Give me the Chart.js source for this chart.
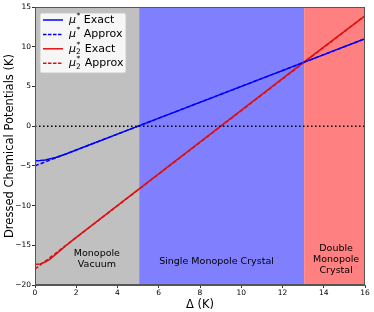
<!DOCTYPE html>
<html>
<head>
<meta charset="utf-8">
<script src="https://cdn.jsdelivr.net/npm/chart.js@4"></script>
<style>
    html, body { margin: 0; padding: 0; background: #ffffff; }
    #wrap { width: 374px; height: 312px; position: relative; }
</style>
</head>
<body>
<div id="wrap"><canvas id="potentialChart"></canvas></div>
<script>
// ========================================
// Data
// ========================================
const blueExactX = [0, 0.25, 0.5, 0.75, 1, 1.5, 2, 5, 13, 16];
const blueExactY = [-4.35, -4.33, -4.25, -4.1, -3.95, -3.5, -3.0, 0, 8, 11];
const blueApproxX = [0, 16];
const blueApproxY = [-5, 11];
const redExactX = [0, 0.25, 0.5, 0.75, 1, 1.5, 2, 5, 13, 16];
const redExactY = [-17.4, -17.35, -17.1, -16.7, -16.15, -15.05, -14, -8, 8, 13.9];
const redApproxX = [0, 16];
const redApproxY = [-18, 13.9];

// phase regions (x ranges)
const regionStarts = [0, 5.05, 13.05];
const regionEnds = [5.05, 13.05, 16];
const regionColors = ['#c0c0c0', '#8080ff', '#ff8080'];

// region labels
const regionLabels = [['Monopole', 'Vacuum'], ['Single Monopole Crystal'], ['Double', 'Monopole', 'Crystal']];
const regionLabelX = [3.0, 8.8, 14.6];
const regionLabelY = [-16.7, -17.0, -16.8];

const xTicks = [0, 2, 4, 6, 8, 10, 12, 14, 16];
const yTicks = [-20, -15, -10, -5, 0, 5, 10, 15];

const FONT = 'DejaVu Sans';
const BLUE = '#0000ff';
const RED = '#dd1010';

function toPoints(xs, ys) {
    return xs.map((x, i) => ({ x: x, y: ys[i] }));
}

// Shaded phase regions behind the curves
const regionPlugin = {
    id: 'regions',
    beforeDatasetsDraw(chart) {
        const ctx = chart.ctx;
        const xs = chart.scales.x;
        const area = chart.chartArea;
        ctx.save();
        regionStarts.forEach((start, i) => {
            const x0 = xs.getPixelForValue(start);
            const x1 = xs.getPixelForValue(regionEnds[i]);
            ctx.fillStyle = regionColors[i];
            ctx.fillRect(x0, area.top, x1 - x0, area.bottom - area.top);
        });
        ctx.restore();
    }
};

// mathtext-like legend label: mu, optional subscript 2, superscript *
function drawMathLabel(ctx, x, y, sub, rest) {
    ctx.font = 'italic 11px "' + FONT + '"';
    ctx.fillText('\u03bc', x, y);
    let cx = x + ctx.measureText('\u03bc').width;
    ctx.font = '7.5px "' + FONT + '"';
    if (sub) {
        ctx.fillText('2', cx, y + 3.5);
    }
    ctx.fillText('*', cx + 0.5, y - 4);
    cx += sub ? ctx.measureText('2').width + 0.5 : ctx.measureText('*').width + 0.5;
    ctx.font = '11px "' + FONT + '"';
    ctx.fillText(rest, cx + 3.5, y);
}

const overlayPlugin = {
    id: 'overlay',
    afterDatasetsDraw(chart) {
        const ctx = chart.ctx;
        const xs = chart.scales.x;
        const ys = chart.scales.y;
        const area = chart.chartArea;
        ctx.save();

        // region labels
        ctx.fillStyle = '#000000';
        ctx.font = '9.5px "' + FONT + '"';
        ctx.textAlign = 'center';
        ctx.textBaseline = 'middle';
        regionLabels.forEach((lines, i) => {
            const cx = xs.getPixelForValue(regionLabelX[i]);
            const cy = ys.getPixelForValue(regionLabelY[i]);
            const lh = 11;
            lines.forEach((t, j) => {
                ctx.fillText(t, cx, cy + (j - (lines.length - 1) / 2) * lh);
            });
        });

        // frame
        ctx.strokeStyle = '#555555';
        ctx.lineWidth = 1;
        ctx.strokeRect(area.left + 0.5, area.top + 0.5, area.right - area.left - 1, area.bottom - area.top - 1);

        // legend box
        const lx = area.left + 5;
        const ly = area.top + 6;
        ctx.fillStyle = 'rgba(255,255,255,0.85)';
        ctx.strokeStyle = 'rgba(200,200,200,0.9)';
        ctx.beginPath();
        ctx.roundRect(lx, ly, 86, 60, 2);
        ctx.fill();
        ctx.stroke();

        const entries = [
            { color: BLUE, dash: [], sub: false, text: 'Exact' },
            { color: BLUE, dash: [3.5, 1.5], sub: false, text: 'Approx' },
            { color: RED, dash: [], sub: true, text: 'Exact' },
            { color: RED, dash: [3.5, 1.5], sub: true, text: 'Approx' }
        ];
        ctx.textAlign = 'left';
        ctx.textBaseline = 'middle';
        entries.forEach((e, i) => {
            const ry = ly + 7 + i * 14.4;
            ctx.strokeStyle = e.color;
            ctx.lineWidth = 1.5;
            ctx.setLineDash(e.dash);
            ctx.beginPath();
            ctx.moveTo(lx + 3, ry);
            ctx.lineTo(lx + 23, ry);
            ctx.stroke();
            ctx.setLineDash([]);
            ctx.fillStyle = '#000000';
            drawMathLabel(ctx, lx + 29, ry, e.sub, e.text);
        });

        ctx.restore();
    }
};

function initChart() {
    const ctx = document.getElementById('potentialChart');
    new Chart(ctx, {
        type: 'scatter',
        data: {
            datasets: [
                {
                    label: 'zero',
                    data: toPoints([0, 16], [0, 0]),
                    showLine: true,
                    borderColor: '#000000',
                    borderWidth: 1.5,
                    borderDash: [1.5, 2.5],
                    pointRadius: 0
                },
                {
                    label: 'mu Approx',
                    data: toPoints(blueApproxX, blueApproxY),
                    showLine: true,
                    borderColor: BLUE,
                    borderWidth: 1.5,
                    borderDash: [4, 2],
                    pointRadius: 0
                },
                {
                    label: 'mu2 Approx',
                    data: toPoints(redApproxX, redApproxY),
                    showLine: true,
                    borderColor: RED,
                    borderWidth: 1.5,
                    borderDash: [4, 2],
                    pointRadius: 0
                },
                {
                    label: 'mu Exact',
                    data: toPoints(blueExactX, blueExactY),
                    showLine: true,
                    borderColor: BLUE,
                    borderWidth: 1.5,
                    tension: 0,
                    pointRadius: 0
                },
                {
                    label: 'mu2 Exact',
                    data: toPoints(redExactX, redExactY),
                    showLine: true,
                    borderColor: RED,
                    borderWidth: 1.5,
                    tension: 0,
                    pointRadius: 0
                }
            ]
        },
        options: {
            responsive: true,
            maintainAspectRatio: false,
            animation: false,
            layout: { padding: { top: 7, right: 9, left: 0, bottom: 0 } },
            plugins: {
                legend: { display: false },
                tooltip: { enabled: false }
            },
            scales: {
                x: {
                    type: 'linear',
                    min: 0,
                    max: 16,
                    afterFit: s => { s.height = 27; },
                    afterBuildTicks: s => { s.ticks = xTicks.map(v => ({ value: v })); },
                    grid: { drawOnChartArea: false, drawTicks: true, tickLength: 3, color: '#333333' },
                    border: { display: true, color: '#555555' },
                    ticks: { color: '#000000', padding: 1, font: { family: FONT, size: 7.5 } },
                    title: { display: true, text: '\u0394 (K)', color: '#000000', padding: { top: 0, bottom: 0 }, font: { family: FONT, size: 11.5 } }
                },
                y: {
                    type: 'linear',
                    min: -20,
                    max: 15,
                    afterFit: s => { s.width = 35; },
                    afterBuildTicks: s => { s.ticks = yTicks.map(v => ({ value: v })); },
                    grid: { drawOnChartArea: false, drawTicks: true, tickLength: 3, color: '#333333' },
                    border: { display: true, color: '#555555' },
                    ticks: {
                        color: '#000000',
                        padding: 1,
                        font: { family: FONT, size: 7.5 },
                        callback: v => (v < 0 ? '\u2212' + Math.abs(v) : String(v))
                    },
                    title: { display: true, text: 'Dressed Chemical Potentials (K)', color: '#000000', padding: { top: 3, bottom: 0 }, font: { family: FONT, size: 11.5 } }
                }
            }
        },
        plugins: [regionPlugin, overlayPlugin]
    });
}

document.addEventListener('DOMContentLoaded', function () {
    initChart();
});
</script>
</body>
</html>
